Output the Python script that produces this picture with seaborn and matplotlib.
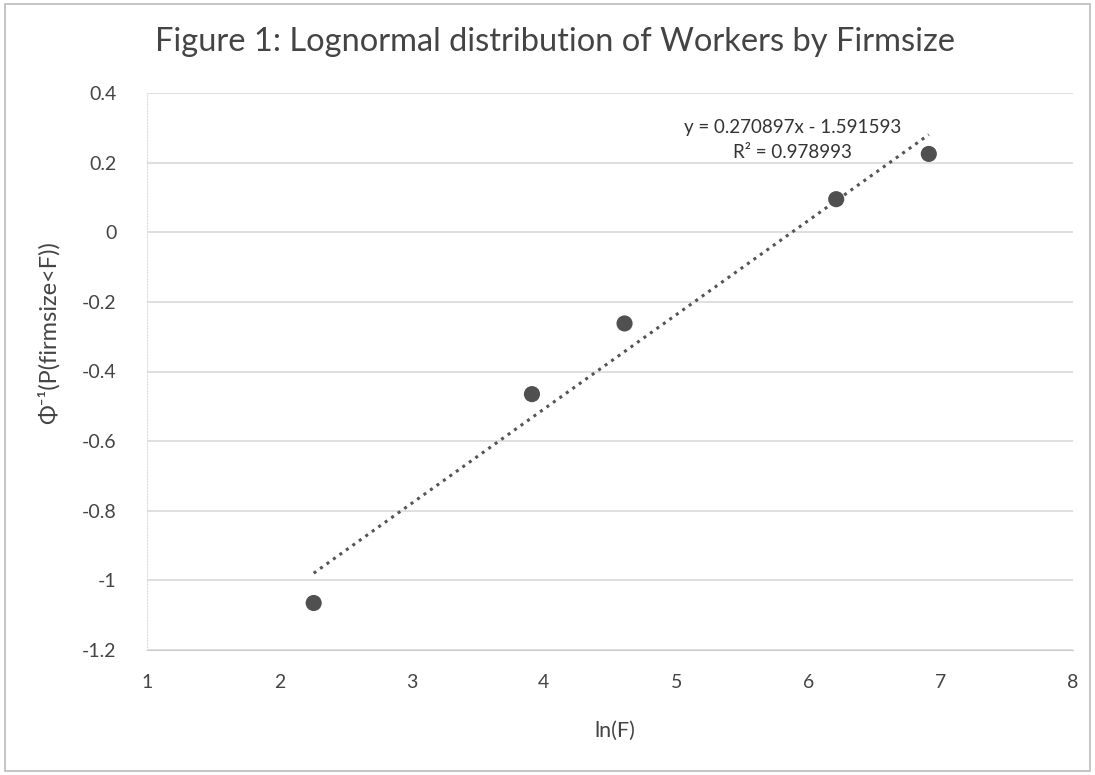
import numpy as np
import pandas as pd
import matplotlib.pyplot as plt
import seaborn as sns

# data
ln_f = [2.26, 3.91, 4.61, 6.21, 6.91]
phi_inv = [-1.065, -0.465, -0.262, 0.095, 0.225]

# trendline as printed on the chart
slope = 0.270897
intercept = -1.591593
r_squared = 0.978993

x_ticks = [1, 2, 3, 4, 5, 6, 7, 8]
y_ticks = [-1.2, -1, -0.8, -0.6, -0.4, -0.2, 0, 0.2, 0.4]
y_tick_labels = ["-1.2", "-1", "-0.8", "-0.6", "-0.4", "-0.2", "0", "0.2", "0.4"]

df = pd.DataFrame({"ln(F)": ln_f, "phi": phi_inv})
trend = pd.DataFrame({"x": [min(ln_f), max(ln_f)]})
trend["y"] = slope * trend["x"] + intercept

sns.set_style("white")
plt.rcParams["font.family"] = ["Lato", "DejaVu Sans"]

fig = plt.figure(figsize=(10.95, 7.75), dpi=100)
ax = fig.add_axes([147 / 1095, 1 - 650 / 775, (1073 - 147) / 1095, (650 - 93) / 775])

ax.grid(axis="y", color="#d9d9d9", linewidth=1.2)
ax.set_axisbelow(True)

sns.lineplot(data=trend, x="x", y="y", ax=ax, color="#555555",
             linestyle=(0, (1, 1.6)), linewidth=2.2)
sns.scatterplot(data=df, x="ln(F)", y="phi", ax=ax, color="#505050",
                s=135, edgecolor="none", zorder=3)

ax.text(5.88, 0.30, f"y = {slope:.6f}x - {abs(intercept):.6f}",
        ha="center", va="center", fontsize=13.5, color="#333333")
ax.text(5.88, 0.228, f"R² = {r_squared:.6f}",
        ha="center", va="center", fontsize=13.5, color="#333333")

ax.set_xlim(1, 8)
ax.set_ylim(-1.2, 0.4)
ax.set_xticks(x_ticks)
ax.set_yticks(y_ticks)
ax.set_yticklabels(y_tick_labels)
ax.tick_params(axis="both", length=0, labelsize=14, colors="#444444")
ax.tick_params(axis="x", pad=17)
ax.tick_params(axis="y", pad=22)

for side in ["top", "right"]:
    ax.spines[side].set_visible(False)
ax.spines["left"].set_color("#dddddd")
ax.spines["left"].set_linestyle(":")
ax.spines["bottom"].set_color("#cccccc")

ax.set_xlabel("ln(F)", fontsize=15.5, color="#444444")
ax.set_ylabel("Φ⁻¹(P(firmsize<F))", fontsize=17, color="#444444")
ax.xaxis.set_label_coords(0.505, -0.128)
ax.yaxis.set_label_coords(-0.094, 0.57)

fig.text(555 / 1095, 1 - 42 / 775, "Figure 1: Lognormal distribution of Workers by Firmsize",
         ha="center", va="center", fontsize=23.5, color="#444444")

fig.patches.append(plt.Rectangle((0.005, 0.005), 0.99, 0.99, transform=fig.transFigure,
                                 fill=False, edgecolor="#bbbbbb", linewidth=1.2))

fig.savefig("out.png", dpi=100)
